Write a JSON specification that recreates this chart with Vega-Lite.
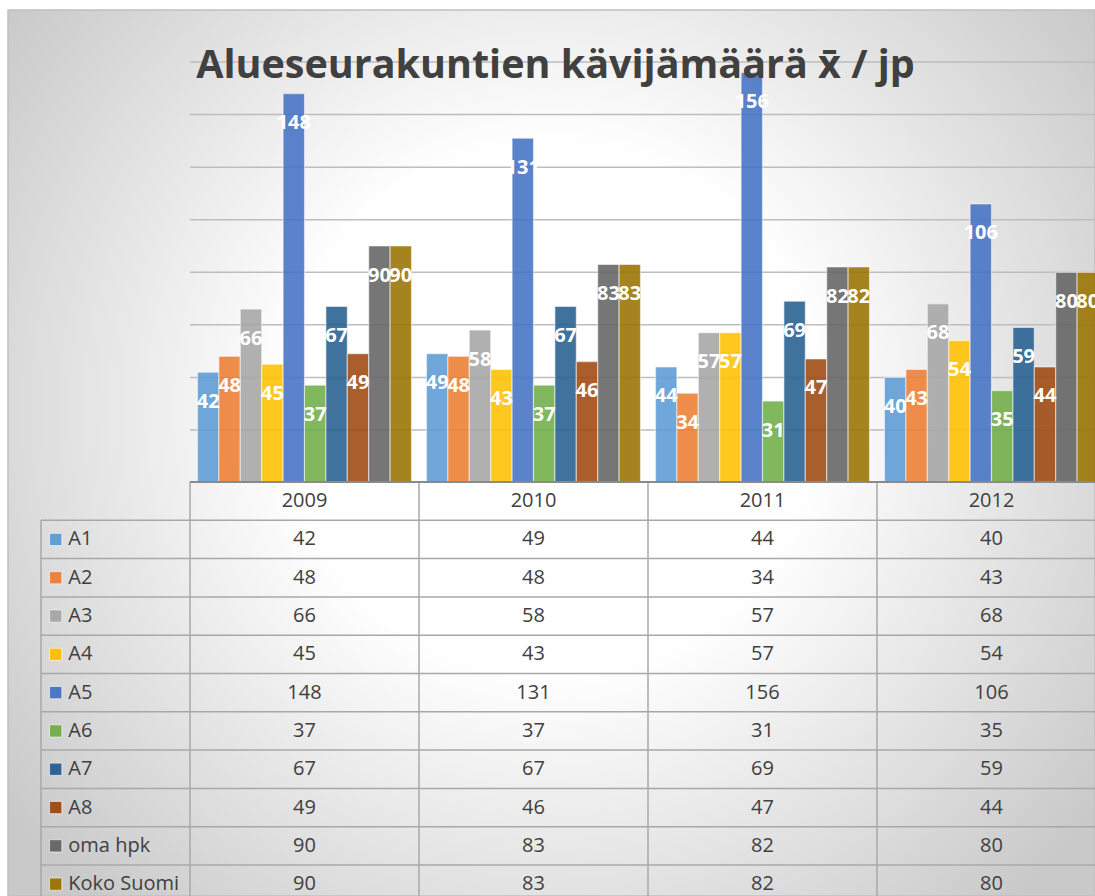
{
  "$schema": "https://vega.github.io/schema/vega-lite/v6.json",
  "width": 1087,
  "height": 886,
  "autosize": {"type": "none"},
  "padding": {"left": 8, "top": 10, "right": 0, "bottom": 0},
  "background": "#ffffff",
  "config": {
    "font": "Open Sans",
    "view": {
      "fill": {"gradient": "radial", "x1": 0.5, "y1": 0.46, "r1": 0, "x2": 0.5, "y2": 0.46, "r2": 0.62,
        "stops": [{"offset": 0, "color": "#ffffff"}, {"offset": 0.39, "color": "#ffffff"}, {"offset": 1, "color": "#c9c9c9"}]},
      "stroke": "#c0c0c0",
      "strokeWidth": 1.5
    }
  },
  "title": {
    "text": "Alueseurakuntien kävijämäärä x̄ / jp",
    "anchor": "middle",
    "frame": "group",
    "orient": "top",
    "baseline": "alphabetic",
    "offset": 0,
    "dy": 107,
    "dx": 4,
    "font": "Open Sans",
    "fontSize": 39.5,
    "fontWeight": "bold",
    "color": "#404040"
  },
  "datasets": {
    "vals": [
      {"year": "2009", "series": "A1", "value": 42},
      {"year": "2009", "series": "A2", "value": 48},
      {"year": "2009", "series": "A3", "value": 66},
      {"year": "2009", "series": "A4", "value": 45},
      {"year": "2009", "series": "A5", "value": 148},
      {"year": "2009", "series": "A6", "value": 37},
      {"year": "2009", "series": "A7", "value": 67},
      {"year": "2009", "series": "A8", "value": 49},
      {"year": "2009", "series": "oma hpk", "value": 90},
      {"year": "2009", "series": "Koko Suomi", "value": 90},
      {"year": "2010", "series": "A1", "value": 49},
      {"year": "2010", "series": "A2", "value": 48},
      {"year": "2010", "series": "A3", "value": 58},
      {"year": "2010", "series": "A4", "value": 43},
      {"year": "2010", "series": "A5", "value": 131},
      {"year": "2010", "series": "A6", "value": 37},
      {"year": "2010", "series": "A7", "value": 67},
      {"year": "2010", "series": "A8", "value": 46},
      {"year": "2010", "series": "oma hpk", "value": 83},
      {"year": "2010", "series": "Koko Suomi", "value": 83},
      {"year": "2011", "series": "A1", "value": 44},
      {"year": "2011", "series": "A2", "value": 34},
      {"year": "2011", "series": "A3", "value": 57},
      {"year": "2011", "series": "A4", "value": 57},
      {"year": "2011", "series": "A5", "value": 156},
      {"year": "2011", "series": "A6", "value": 31},
      {"year": "2011", "series": "A7", "value": 69},
      {"year": "2011", "series": "A8", "value": 47},
      {"year": "2011", "series": "oma hpk", "value": 82},
      {"year": "2011", "series": "Koko Suomi", "value": 82},
      {"year": "2012", "series": "A1", "value": 40},
      {"year": "2012", "series": "A2", "value": 43},
      {"year": "2012", "series": "A3", "value": 68},
      {"year": "2012", "series": "A4", "value": 54},
      {"year": "2012", "series": "A5", "value": 106},
      {"year": "2012", "series": "A6", "value": 35},
      {"year": "2012", "series": "A7", "value": 59},
      {"year": "2012", "series": "A8", "value": 44},
      {"year": "2012", "series": "oma hpk", "value": 80},
      {"year": "2012", "series": "Koko Suomi", "value": 80}
    ],
    "grid": [{"v": 20}, {"v": 40}, {"v": 60}, {"v": 80}, {"v": 100}, {"v": 120}, {"v": 140}, {"v": 160}],
    "years": [{"year": "2009"}, {"year": "2010"}, {"year": "2011"}, {"year": "2012"}],
    "rows": [
      {"series": "A1"}, {"series": "A2"}, {"series": "A3"}, {"series": "A4"}, {"series": "A5"},
      {"series": "A6"}, {"series": "A7"}, {"series": "A8"}, {"series": "oma hpk"}, {"series": "Koko Suomi"}
    ],
    "one": [{"k": 1}]
  },
  "resolve": {"scale": {"y": "independent"}},
  "layer": [
    {
      "layer": [
        {
          "data": {"name": "grid"},
          "mark": {"type": "rule", "stroke": "#bdbdbd", "strokeWidth": 1.5},
          "encoding": {
            "x": {"datum": "2009", "type": "nominal", "bandPosition": 0,
              "scale": {"domain": ["2009", "2010", "2011", "2012"], "range": [182, 1098], "paddingInner": 0, "paddingOuter": 0},
              "axis": null},
            "x2": {"value": "width"},
            "y": {"field": "v", "type": "quantitative", "scale": {"domain": [0, 180], "range": [472.5, -0.5], "nice": false, "zero": false}, "axis": null}
          }
        },
        {
          "data": {"name": "vals"},
          "mark": {"type": "bar", "fillOpacity": 0.88, "stroke": "#ffffff", "strokeOpacity": 0.5, "strokeWidth": 1.2},
          "encoding": {
            "x": {"field": "year", "type": "nominal", "axis": null},
            "xOffset": {"field": "series", "type": "nominal", "sort": null,
              "scale": {"domain": ["A1", "A2", "A3", "A4", "A5", "A6", "A7", "A8", "oma hpk", "Koko Suomi"], "paddingInner": 0, "paddingOuter": 0.35}},
            "y": {"field": "value", "type": "quantitative", "axis": null},
            "color": {"field": "series", "type": "nominal", "legend": null,
              "scale": {"domain": ["A1", "A2", "A3", "A4", "A5", "A6", "A7", "A8", "oma hpk", "Koko Suomi"],
                "range": ["#5B9BD5", "#ED7D31", "#A5A5A5", "#FFC000", "#4472C4", "#70AD47", "#255E91", "#9E480E", "#636363", "#997300"]}}
          }
        },
        {
          "data": {"name": "vals"},
          "mark": {"type": "text", "baseline": "alphabetic", "align": "center", "dy": 35.5, "fontSize": 20, "fontWeight": "bold", "fill": "#ffffff", "font": "Open Sans"},
          "encoding": {
            "x": {"field": "year", "type": "nominal"},
            "xOffset": {"field": "series", "type": "nominal", "sort": null},
            "y": {"field": "value", "type": "quantitative"},
            "text": {"field": "value", "type": "quantitative"}
          }
        }
      ]
    },
    {
      "layer": [
        {
          "data": {"name": "rows"},
          "mark": {"type": "rule", "stroke": "#a8a8a8", "strokeWidth": 1.5},
          "encoding": {
            "x": {"datum": "2009", "type": "nominal", "bandPosition": -0.6507},
            "x2": {"value": "width"},
            "y": {"field": "series", "type": "nominal", "bandPosition": 0, "axis": null,
              "scale": {"domain": ["hdr", "A1", "A2", "A3", "A4", "A5", "A6", "A7", "A8", "oma hpk", "Koko Suomi"], "range": [472, 893.3], "paddingInner": 0, "paddingOuter": 0}}
          }
        },
        {
          "data": {"name": "years"},
          "mark": {"type": "rule", "stroke": "#a8a8a8", "strokeWidth": 1.5},
          "encoding": {
            "x": {"field": "year", "type": "nominal", "bandPosition": 0},
            "y": {"datum": "hdr", "type": "nominal", "bandPosition": 0},
            "y2": {"value": "height"}
          }
        },
        {
          "data": {"name": "one"},
          "mark": {"type": "rule", "stroke": "#a8a8a8", "strokeWidth": 1.5},
          "encoding": {
            "x": {"datum": "2009", "type": "nominal", "bandPosition": -0.6507},
            "y": {"datum": "A1", "type": "nominal", "bandPosition": 0},
            "y2": {"value": "height"}
          }
        },
        {
          "data": {"name": "one"},
          "mark": {"type": "rule", "stroke": "#8a8a8a", "strokeWidth": 2},
          "encoding": {
            "x": {"datum": "2009", "type": "nominal", "bandPosition": 0},
            "x2": {"value": "width"},
            "y": {"datum": "hdr", "type": "nominal", "bandPosition": 0}
          }
        },
        {
          "data": {"name": "years"},
          "mark": {"type": "text", "baseline": "middle", "align": "center", "fontSize": 20, "fill": "#404040", "font": "Open Sans"},
          "encoding": {
            "x": {"field": "year", "type": "nominal"},
            "y": {"datum": "hdr", "type": "nominal"},
            "text": {"field": "year", "type": "nominal"}
          }
        },
        {
          "data": {"name": "vals"},
          "mark": {"type": "text", "baseline": "middle", "align": "center", "fontSize": 20, "fill": "#404040", "font": "Open Sans"},
          "encoding": {
            "x": {"field": "year", "type": "nominal"},
            "y": {"field": "series", "type": "nominal"},
            "text": {"field": "value", "type": "quantitative"}
          }
        },
        {
          "data": {"name": "rows"},
          "mark": {"type": "text", "baseline": "middle", "align": "left", "fontSize": 20, "fill": "#404040", "font": "Open Sans"},
          "encoding": {
            "x": {"datum": "2009", "type": "nominal", "bandPosition": -0.5314},
            "y": {"field": "series", "type": "nominal"},
            "text": {"field": "series", "type": "nominal"}
          }
        },
        {
          "data": {"name": "rows"},
          "mark": {"type": "square", "size": 150, "opacity": 1, "fillOpacity": 0.95, "stroke": "#ffffff", "strokeOpacity": 0.6, "strokeWidth": 1},
          "encoding": {
            "x": {"datum": "2009", "type": "nominal", "bandPosition": -0.5865},
            "y": {"field": "series", "type": "nominal"},
            "color": {"field": "series", "type": "nominal", "legend": null}
          }
        }
      ]
    }
  ]
}
